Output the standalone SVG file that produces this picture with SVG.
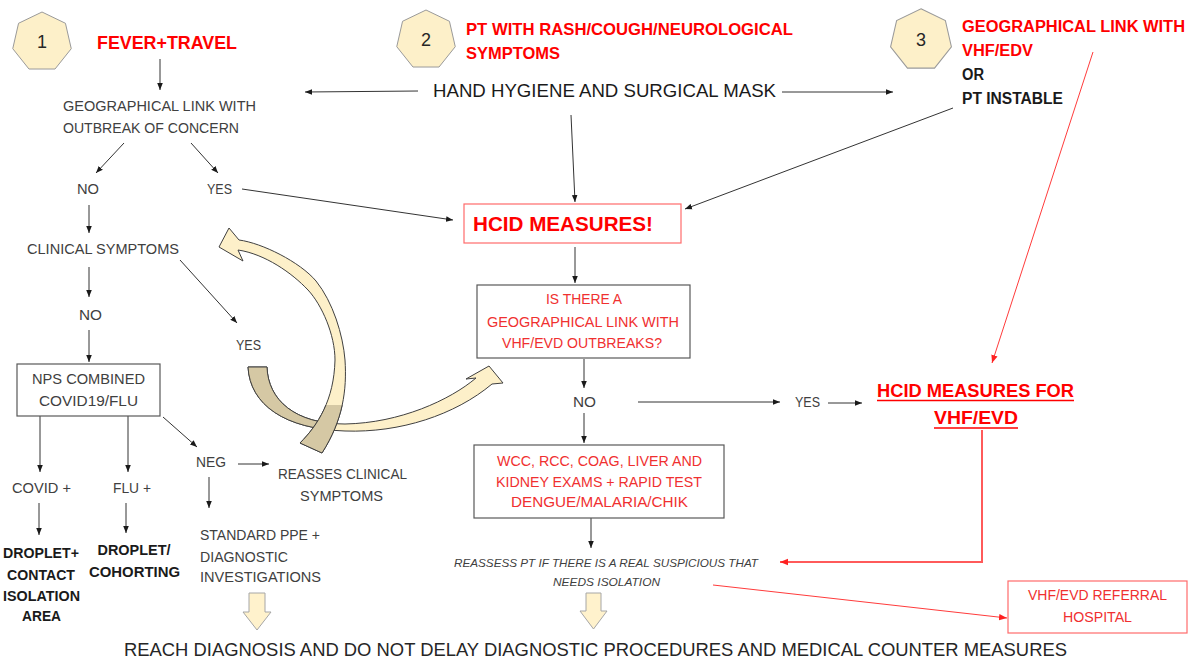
<svg xmlns="http://www.w3.org/2000/svg" width="1194" height="661" viewBox="0 0 1194 661">
  <style>
    text { font-family: "Liberation Sans", Arial, sans-serif; }
    .g { font-size: 14px; fill: #404040; }
    .r { font-size: 14px; fill: #f03030; }
    .rb { font-weight: bold; fill: #ff0000; }
    .kb { font-weight: bold; fill: #1a1a1a; }
    .it { font-size: 11.5px; font-style: italic; fill: #404040; }
    .c { text-anchor: middle; }
    .ln { stroke: #333333; stroke-width: 1; fill: none; }
    .rl { stroke: #ff3b3b; stroke-width: 1; fill: none; }
    .rl2 { stroke: #ff5a5a; stroke-width: 2; fill: none; }
    .box { fill: #ffffff; stroke: #595959; stroke-width: 1.2; }
    .rbox { fill: #ffffff; stroke: #ff6b6b; stroke-width: 1.2; }
    .hept { fill: #fdf0c9; stroke: #9a9a9a; stroke-width: 1; }
    .blk { fill: #fff2cc; stroke: #a6a6a6; stroke-width: 1; }
    .cream { fill: #fdf0c9; stroke: #404040; stroke-width: 1; }
    .dark { fill: #d5c8a4; stroke: #404040; stroke-width: 1; }
  </style>
  <defs>
    <marker id="ah" viewBox="0 0 10 10" refX="10" refY="5" markerWidth="7" markerHeight="7" markerUnits="userSpaceOnUse" orient="auto">
      <path d="M0,1 L10,5 L0,9 Z" fill="#1a1a1a"/>
    </marker>
    <marker id="ahr" viewBox="0 0 10 10" refX="10" refY="5" markerWidth="8" markerHeight="8" markerUnits="userSpaceOnUse" orient="auto">
      <path d="M0,1 L10,5 L0,9 Z" fill="#ff2020"/>
    </marker>
    <polygon id="hp" points="0,-30 23.45,-18.71 29.25,6.68 13.02,27.03 -13.02,27.03 -29.25,6.68 -23.45,-18.71"/>
    <path id="arcB" d="M248,367 C250,405 285,429 345,431 C400,433 455,415 492,384 L503,383 L489,366 L466,379 L476,378 C450,400 400,423 345,424 C295,424 268,400 267,367 Z"/>
    <path id="arcA" d="M239,240 C262,243 300,262 316,281 C333,302 343,335 345,360 C347,390 343,420 322,453 L300,443 C318,425 334,400 335,360 C335,335 322,305 308,290 C292,273 265,254 238,250 L243,261 L219,247 L229,228 Z"/>
    <clipPath id="clipB"><rect x="0" y="300" width="322" height="200"/></clipPath>
    <clipPath id="clipA"><rect x="250" y="405" width="150" height="80"/></clipPath>
  </defs>

  <!-- numbered entry points -->
  <g id="step1">
    <use href="#hp" class="hept" transform="translate(42,42)"/>
    <text x="42" y="48" class="c" style="font-size:18px;fill:#262626">1</text>
  </g>
  <g id="step2">
    <use href="#hp" class="hept" transform="translate(426,40)"/>
    <text x="426" y="46" class="c" style="font-size:18px;fill:#262626">2</text>
  </g>
  <g id="step3">
    <use href="#hp" class="hept" transform="translate(921,40) scale(1.04)"/>
    <text x="921" y="46" class="c" style="font-size:18px;fill:#262626">3</text>
  </g>

  <!-- connectors -->
  <g id="connectors">
    <line class="ln" x1="160" y1="59" x2="160" y2="90" marker-end="url(#ah)"/>
    <line class="ln" x1="418" y1="91" x2="305" y2="92" marker-end="url(#ah)"/>
    <line class="ln" x1="782" y1="92" x2="893" y2="92" marker-end="url(#ah)"/>
    <line class="ln" x1="571" y1="115" x2="575" y2="202" marker-end="url(#ah)"/>
    <line class="ln" x1="953" y1="108" x2="685" y2="209" marker-end="url(#ah)"/>
    <line class="ln" x1="124" y1="143" x2="96" y2="173" marker-end="url(#ah)"/>
    <line class="ln" x1="191" y1="143" x2="218" y2="173" marker-end="url(#ah)"/>
    <line class="ln" x1="242" y1="189" x2="453" y2="220" marker-end="url(#ah)"/>
    <line class="ln" x1="89" y1="205" x2="89" y2="233" marker-end="url(#ah)"/>
    <line class="ln" x1="89" y1="267" x2="89" y2="297" marker-end="url(#ah)"/>
    <line class="ln" x1="89" y1="330" x2="89" y2="362" marker-end="url(#ah)"/>
    <line class="ln" x1="180" y1="260" x2="237" y2="323" marker-end="url(#ah)"/>
    <line class="ln" x1="163" y1="417" x2="197" y2="447" marker-end="url(#ah)"/>
    <line class="ln" x1="40" y1="416" x2="40" y2="472" marker-end="url(#ah)"/>
    <line class="ln" x1="128" y1="416" x2="128" y2="472" marker-end="url(#ah)"/>
    <line class="ln" x1="39" y1="503" x2="39" y2="535" marker-end="url(#ah)"/>
    <line class="ln" x1="126" y1="503" x2="126" y2="533" marker-end="url(#ah)"/>
    <line class="ln" x1="238" y1="464" x2="269" y2="464" marker-end="url(#ah)"/>
    <line class="ln" x1="209" y1="477" x2="209" y2="508" marker-end="url(#ah)"/>
    <line class="ln" x1="575" y1="247" x2="575" y2="283" marker-end="url(#ah)"/>
    <line class="ln" x1="584" y1="359" x2="584" y2="388" marker-end="url(#ah)"/>
    <line class="ln" x1="638" y1="402" x2="780" y2="402" marker-end="url(#ah)"/>
    <line class="ln" x1="828" y1="403" x2="862" y2="403" marker-end="url(#ah)"/>
    <line class="ln" x1="584" y1="413" x2="584" y2="443" marker-end="url(#ah)"/>
    <line class="ln" x1="591" y1="518" x2="591" y2="548" marker-end="url(#ah)"/>
    <line class="rl" x1="1093" y1="52" x2="992" y2="363" marker-end="url(#ahr)"/>
    <polyline class="rl2" points="982,430 982,562 780,562" marker-end="url(#ahr)"/>
    <line class="rl" x1="713" y1="585" x2="1007" y2="618" marker-end="url(#ahr)"/>
  </g>

  <!-- looping re-assessment arrows -->
  <g id="loop-arrows">
    <use href="#arcB" class="cream"/>
    <use href="#arcB" class="dark" clip-path="url(#clipB)"/>
    <use href="#arcA" class="cream"/>
    <use href="#arcA" class="dark" clip-path="url(#clipA)"/>
  </g>

  <!-- block arrows towards the final statement -->
  <g id="down-arrows">
    <path class="blk" d="M249,593 H265 V612 H271 L257,630 L243,612 H249 Z"/>
    <path class="blk" d="M586,593 H601 V611 H607 L593.5,629 L580,611 H586 Z"/>
  </g>

  <!-- left branch -->
  <g id="fever-travel">
    <text x="97" y="49" class="rb" style="font-size:18px" textLength="140" lengthAdjust="spacingAndGlyphs">FEVER+TRAVEL</text>
  </g>
  <g id="geo-link">
    <text x="63" y="111" class="g" textLength="193" lengthAdjust="spacingAndGlyphs">GEOGRAPHICAL LINK WITH</text>
    <text x="63" y="133" class="g" textLength="176" lengthAdjust="spacingAndGlyphs">OUTBREAK OF CONCERN</text>
  </g>
  <g id="no1"><text x="77" y="194" class="g" textLength="22" lengthAdjust="spacingAndGlyphs">NO</text></g>
  <g id="yes1"><text x="207" y="194" class="g" textLength="25" lengthAdjust="spacingAndGlyphs">YES</text></g>
  <g id="clinical"><text x="27" y="254" class="g" textLength="152" lengthAdjust="spacingAndGlyphs">CLINICAL SYMPTOMS</text></g>
  <g id="no2"><text x="79" y="320" class="g" textLength="23" lengthAdjust="spacingAndGlyphs">NO</text></g>
  <g id="yes2"><text x="236" y="350" class="g" textLength="25" lengthAdjust="spacingAndGlyphs">YES</text></g>
  <g id="nps">
    <rect class="box" x="17" y="364" width="143" height="52"/>
    <text x="88.5" y="384" class="g c" textLength="113" lengthAdjust="spacingAndGlyphs">NPS COMBINED</text>
    <text x="88.5" y="406" class="g c" textLength="99" lengthAdjust="spacingAndGlyphs">COVID19/FLU</text>
  </g>
  <g id="covid"><text x="12" y="493" class="g" textLength="59" lengthAdjust="spacingAndGlyphs">COVID +</text></g>
  <g id="flu"><text x="113" y="493" class="g" textLength="38" lengthAdjust="spacingAndGlyphs">FLU +</text></g>
  <g id="neg"><text x="196" y="467" class="g" textLength="30" lengthAdjust="spacingAndGlyphs">NEG</text></g>
  <g id="reasses">
    <text x="278" y="479" class="g" textLength="129" lengthAdjust="spacingAndGlyphs">REASSES CLINICAL</text>
    <text x="300" y="501" class="g" textLength="83" lengthAdjust="spacingAndGlyphs">SYMPTOMS</text>
  </g>
  <g id="standard-ppe">
    <text x="200" y="540" class="g" textLength="120" lengthAdjust="spacingAndGlyphs">STANDARD PPE +</text>
    <text x="200" y="562" class="g" textLength="88" lengthAdjust="spacingAndGlyphs">DIAGNOSTIC</text>
    <text x="200" y="582" class="g" textLength="121" lengthAdjust="spacingAndGlyphs">INVESTIGATIONS</text>
  </g>
  <g id="droplet-contact">
    <text x="41" y="558" class="kb c" style="font-size:14.5px" textLength="76" lengthAdjust="spacingAndGlyphs">DROPLET+</text>
    <text x="41" y="580" class="kb c" style="font-size:14.5px" textLength="68" lengthAdjust="spacingAndGlyphs">CONTACT</text>
    <text x="41.5" y="601" class="kb c" style="font-size:14.5px" textLength="77" lengthAdjust="spacingAndGlyphs">ISOLATION</text>
    <text x="41.5" y="621" class="kb c" style="font-size:14.5px" textLength="39" lengthAdjust="spacingAndGlyphs">AREA</text>
  </g>
  <g id="droplet-cohorting">
    <text x="134" y="555" class="kb c" style="font-size:14.5px" textLength="73" lengthAdjust="spacingAndGlyphs">DROPLET/</text>
    <text x="134.5" y="577" class="kb c" style="font-size:14.5px" textLength="91" lengthAdjust="spacingAndGlyphs">COHORTING</text>
  </g>

  <!-- middle branch -->
  <g id="rash-cough">
    <text x="466" y="35" class="rb" style="font-size:16.5px" textLength="327" lengthAdjust="spacingAndGlyphs">PT WITH RASH/COUGH/NEUROLOGICAL</text>
    <text x="466" y="59" class="rb" style="font-size:16.5px" textLength="94" lengthAdjust="spacingAndGlyphs">SYMPTOMS</text>
  </g>
  <g id="hand-hygiene">
    <text x="433" y="97" style="font-size:18px;fill:#1a1a1a" textLength="343" lengthAdjust="spacingAndGlyphs">HAND HYGIENE AND SURGICAL MASK</text>
  </g>
  <g id="hcid">
    <rect class="rbox" x="464" y="204" width="217" height="39"/>
    <text x="473" y="231" class="rb" style="font-size:21px" textLength="180" lengthAdjust="spacingAndGlyphs">HCID MEASURES!</text>
  </g>
  <g id="vhf-question">
    <rect class="box" x="477" y="285" width="213" height="73"/>
    <text x="584" y="304" class="r c" textLength="76" lengthAdjust="spacingAndGlyphs">IS THERE A</text>
    <text x="583" y="327" class="r c" textLength="192" lengthAdjust="spacingAndGlyphs">GEOGRAPHICAL LINK WITH</text>
    <text x="582" y="348" class="r c" textLength="160" lengthAdjust="spacingAndGlyphs">VHF/EVD OUTBREAKS?</text>
  </g>
  <g id="no3"><text x="573" y="407" class="g" textLength="23" lengthAdjust="spacingAndGlyphs">NO</text></g>
  <g id="yes3"><text x="795" y="407" class="g" textLength="25" lengthAdjust="spacingAndGlyphs">YES</text></g>
  <g id="lab-exams">
    <rect class="box" x="474" y="445" width="250" height="73"/>
    <text x="599.5" y="466" class="r c" textLength="205" lengthAdjust="spacingAndGlyphs">WCC, RCC, COAG, LIVER AND</text>
    <text x="599" y="487" class="r c" textLength="206" lengthAdjust="spacingAndGlyphs">KIDNEY EXAMS + RAPID TEST</text>
    <text x="599.5" y="507" class="r c" textLength="177" lengthAdjust="spacingAndGlyphs">DENGUE/MALARIA/CHIK</text>
  </g>
  <g id="reassess-pt">
    <text x="454" y="567" class="it" textLength="304" lengthAdjust="spacingAndGlyphs">REASSESS PT IF THERE IS A REAL SUSPICIOUS  THAT</text>
    <text x="553" y="586" class="it" textLength="107" lengthAdjust="spacingAndGlyphs">NEEDS ISOLATION</text>
  </g>

  <!-- right branch -->
  <g id="vhf-link">
    <text x="962" y="32" class="rb" style="font-size:16px" textLength="223" lengthAdjust="spacingAndGlyphs">GEOGRAPHICAL LINK WITH</text>
    <text x="962" y="56" class="rb" style="font-size:16px" textLength="71" lengthAdjust="spacingAndGlyphs">VHF/EDV</text>
    <text x="962" y="80" class="kb" style="font-size:16px" textLength="22" lengthAdjust="spacingAndGlyphs">OR</text>
    <text x="962" y="104" class="kb" style="font-size:16px" textLength="101" lengthAdjust="spacingAndGlyphs">PT INSTABLE</text>
  </g>
  <g id="hcid-vhf">
    <text x="877" y="397" class="rb" style="font-size:18.5px" textLength="197" lengthAdjust="spacingAndGlyphs">HCID MEASURES FOR</text>
    <line x1="877" y1="400.5" x2="1074" y2="400.5" stroke="#ff0000" stroke-width="1.5"/>
    <text x="934" y="424" class="rb" style="font-size:18.5px" textLength="84" lengthAdjust="spacingAndGlyphs">VHF/EVD</text>
    <line x1="934" y1="428" x2="1018" y2="428" stroke="#ff0000" stroke-width="1.5"/>
  </g>
  <g id="referral">
    <rect class="rbox" x="1008" y="581" width="179" height="52"/>
    <text x="1097.5" y="600" class="r c" textLength="139" lengthAdjust="spacingAndGlyphs">VHF/EVD REFERRAL</text>
    <text x="1097.5" y="622" class="r c" textLength="69" lengthAdjust="spacingAndGlyphs">HOSPITAL</text>
  </g>

  <!-- closing statement -->
  <g id="conclusion">
    <text x="124" y="656" style="font-size:19px;fill:#262626" textLength="943" lengthAdjust="spacingAndGlyphs">REACH DIAGNOSIS AND DO NOT DELAY DIAGNOSTIC PROCEDURES AND MEDICAL COUNTER MEASURES</text>
  </g>
</svg>
